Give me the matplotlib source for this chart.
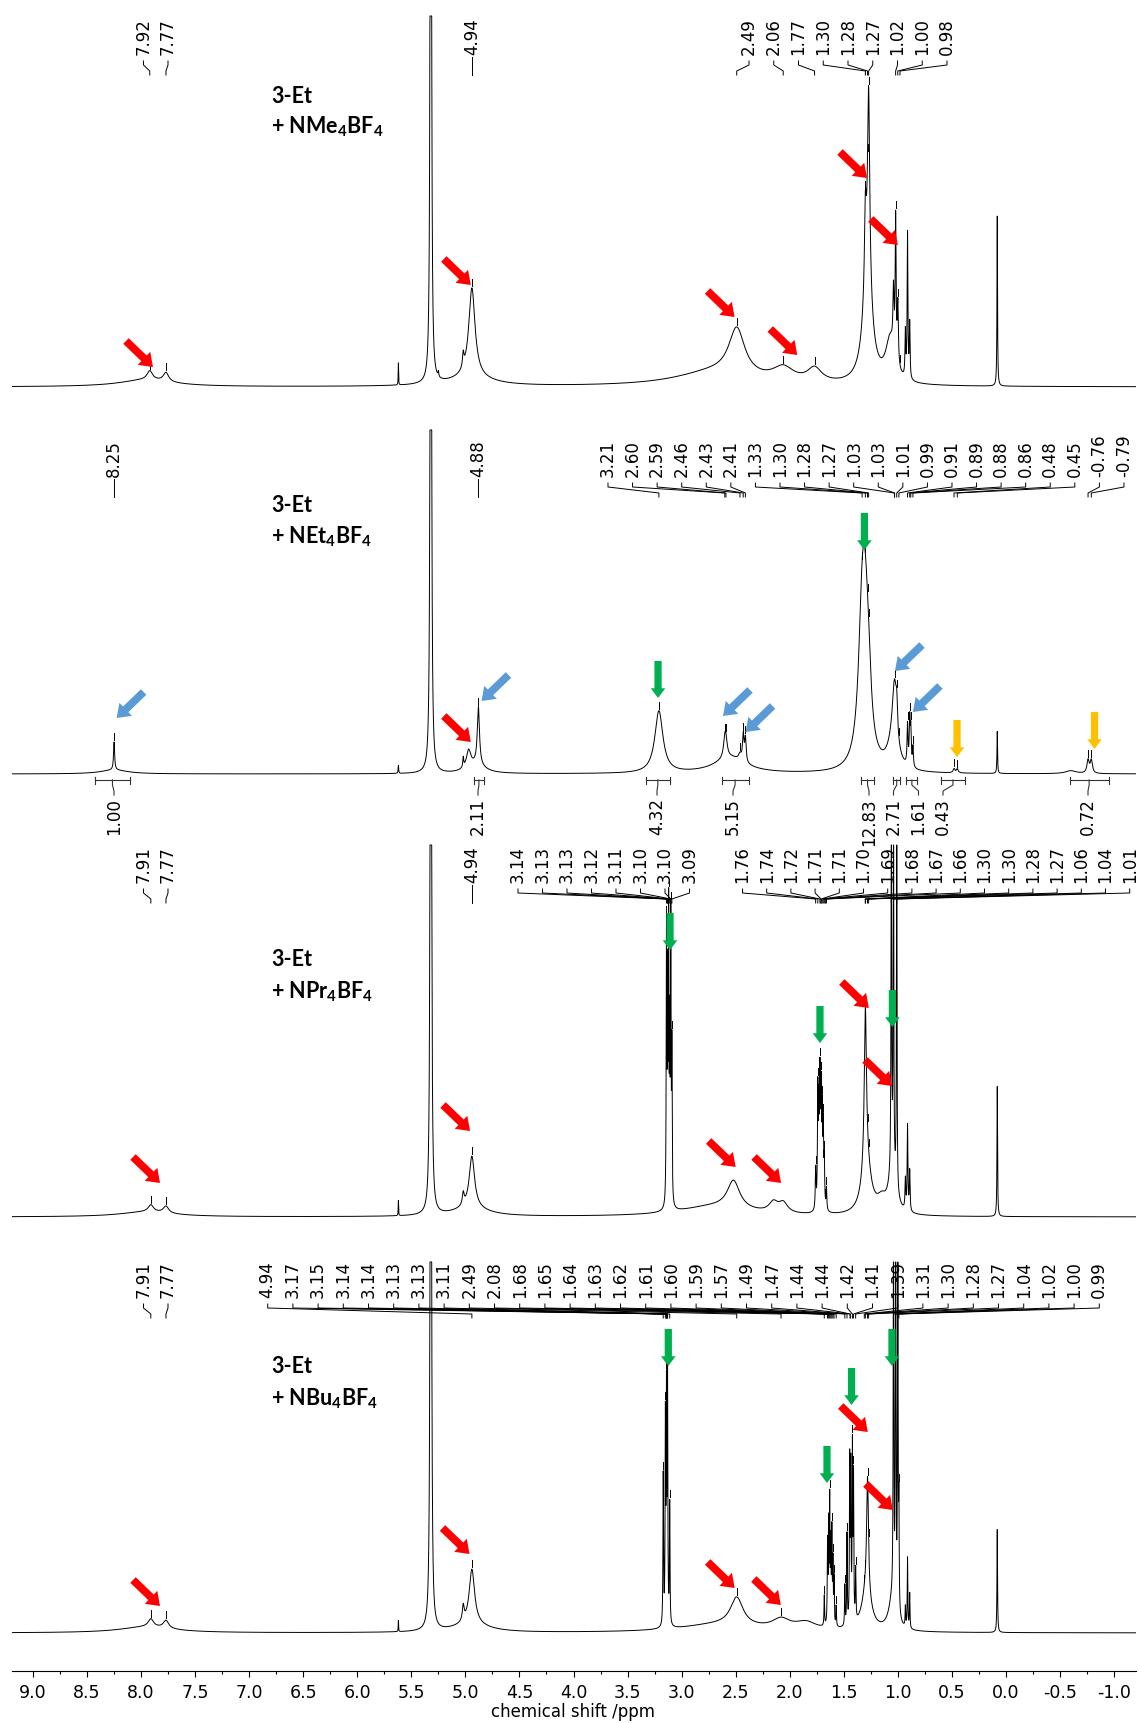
import numpy as np
import matplotlib
matplotlib.use("Agg")
import matplotlib.pyplot as plt

plt.rcParams["font.family"] = "DejaVu Sans"
plt.rcParams["axes.unicode_minus"] = False
plt.rcParams["mathtext.fontset"] = "custom"
plt.rcParams["mathtext.rm"] = "Lato:bold"
plt.rcParams["mathtext.it"] = "Lato:bold"
plt.rcParams["mathtext.bf"] = "Lato:bold"

# ---- peak tables (ppm, height in px above baseline, half-width in ppm)
p1_pos = [7.95, 7.92, 7.77, 5.62, 5.32, 5.25, 5.02, 4.94, 4.95, 2.70, 2.49, 2.06, 1.77,
          1.30, 1.28, 1.27, 1.07, 1.04, 1.02, 1.00, 0.93, 0.91, 0.89, 0.08]
p1_hgt = [7, 9, 9, 22, 2000, 5, 14, 90, 8, 14, 47, 14, 14,
          80, 100, 192, 42, 60, 140, 60, 45, 145, 55, 170]
p1_wid = [0.30, 0.03, 0.03, 0.002, 0.004, 0.004, 0.008, 0.035, 0.25, 0.45, 0.09, 0.12, 0.08,
          0.010, 0.05, 0.012, 0.05, 0.006, 0.005, 0.006, 0.004, 0.004, 0.004, 0.003]

p2_pos = [8.25, 8.25, 5.62, 5.32, 5.02, 4.97, 4.88, 4.90, 3.21, 2.60, 2.59, 2.46, 2.43, 2.41,
          2.55, 1.33, 1.30, 1.27, 1.03, 1.01, 1.05, 0.91, 0.89, 0.88, 0.86, 0.48, 0.45, 0.08,
          -0.60, -0.76, -0.79]
p2_hgt = [28, 4, 8, 2000, 10, 18, 58, 8, 62, 16, 14, 6, 26, 24,
          16, 130, 115, 40, 68, 25, 20, 40, 45, 35, 20, 4, 4, 42,
          3, 13, 13]
p2_wid = [0.006, 0.15, 0.003, 0.004, 0.005, 0.025, 0.012, 0.10, 0.045, 0.015, 0.015, 0.015, 0.008, 0.008,
          0.18, 0.04, 0.04, 0.03, 0.025, 0.008, 0.06, 0.005, 0.005, 0.005, 0.005, 0.01, 0.01, 0.003,
          0.06, 0.012, 0.012]

p3_pos = [7.95, 7.91, 7.77, 5.62, 5.32, 5.02, 4.94, 4.95, 3.14, 3.13, 3.12, 3.11, 3.10, 3.09,
          2.70, 2.52, 2.15, 2.06, 1.76, 1.74, 1.73, 1.72, 1.71, 1.70, 1.69, 1.68, 1.66,
          1.30, 1.29, 1.15, 1.06, 1.04, 1.01, 1.05, 0.93, 0.91, 0.89, 0.08]
p3_hgt = [5, 7, 7, 15, 2000, 12, 52, 8, 270, 210, 280, 160, 275, 150,
          10, 28, 10, 10, 40, 115, 90, 120, 105, 85, 75, 45, 22,
          158, 50, 12, 420, 420, 380, 40, 30, 85, 40, 130]
p3_wid = [0.30, 0.03, 0.03, 0.002, 0.004, 0.01, 0.03, 0.2, 0.003, 0.003, 0.003, 0.003, 0.003, 0.003,
          0.40, 0.07, 0.05, 0.05, 0.004, 0.004, 0.004, 0.004, 0.004, 0.004, 0.004, 0.004, 0.004,
          0.012, 0.05, 0.05, 0.003, 0.003, 0.003, 0.04, 0.004, 0.004, 0.004, 0.003]

p4_pos = [7.95, 7.91, 7.77, 5.62, 5.32, 5.02, 4.94, 4.95, 3.17, 3.15, 3.14, 3.13, 3.11,
          2.65, 2.49, 2.08, 1.85, 1.68, 1.65, 1.64, 1.63, 1.62, 1.61, 1.60, 1.59, 1.57,
          1.49, 1.47, 1.445, 1.435, 1.42, 1.41, 1.39, 1.28, 1.29,
          1.04, 1.02, 1.00, 0.99, 1.05, 0.93, 0.91, 0.89, 0.08]
p4_hgt = [6, 8, 8, 11, 2000, 15, 55, 8, 150, 200, 220, 240, 120,
          8, 28, 10, 8, 30, 80, 95, 120, 75, 90, 60, 45, 20,
          40, 90, 160, 150, 170, 140, 50, 115, 40,
          420, 440, 400, 100, 30, 20, 70, 35, 103]
p4_wid = [0.30, 0.03, 0.03, 0.002, 0.004, 0.01, 0.03, 0.2, 0.003, 0.003, 0.003, 0.003, 0.003,
          0.45, 0.07, 0.10, 0.12, 0.003, 0.003, 0.003, 0.003, 0.003, 0.003, 0.003, 0.003, 0.003,
          0.003, 0.003, 0.003, 0.003, 0.003, 0.003, 0.003, 0.01, 0.05,
          0.003, 0.003, 0.003, 0.003, 0.04, 0.003, 0.003, 0.003, 0.003]

# ---- peak labels (ppm) per panel, in groups
p1_labels = [[7.92, 7.77], [4.94], [2.49, 2.06, 1.77, 1.30, 1.28, 1.27, 1.02, 1.00, 0.98]]
p2_labels = [[8.25], [4.88],
             [3.21, 2.60, 2.59, 2.46, 2.43, 2.41, 1.33, 1.30, 1.28, 1.27, 1.03, 1.03, 1.01,
              0.99, 0.91, 0.89, 0.88, 0.86, 0.48, 0.45, -0.76, -0.79]]
p3_labels = [[7.91, 7.77], [4.94], [3.14, 3.13, 3.13, 3.12, 3.11, 3.10, 3.10, 3.09],
             [1.76, 1.74, 1.72, 1.71, 1.71, 1.70, 1.69, 1.68, 1.67, 1.66, 1.30, 1.30, 1.28,
              1.27, 1.06, 1.04, 1.01]]
p4_labels = [[7.91, 7.77],
             [4.94, 3.17, 3.15, 3.14, 3.14, 3.13, 3.13, 3.11, 2.49, 2.08, 1.68, 1.65, 1.64,
              1.63, 1.62, 1.61, 1.60, 1.59, 1.57, 1.49, 1.47, 1.44, 1.44, 1.42, 1.41, 1.39,
              1.31, 1.30, 1.28, 1.27, 1.04, 1.02, 1.00, 0.99]]

# ---- integrals of panel 2
int_from = [8.43, 4.92, 3.33, 2.63, 1.34, 1.04, 0.92, 0.60, -0.59]
int_to = [8.10, 4.83, 3.11, 2.38, 1.22, 0.98, 0.82, 0.38, -0.95]
int_value = [1.00, 2.11, 4.32, 5.15, 12.83, 2.71, 1.61, 0.43, 0.72]

salts = ["NMe", "NEt", "NPr", "NBu"]

# ---- layout (pixels from the top of the image)
W, H = 1139, 1723
AX_Y = 1671
base_y = [387, 774, 1217, 1633]
cap_h = [371, 344, 372, 371]
text_bottom = [55, 477, 883, 1298]
name_y = [(103, 133), (512, 543), (966, 998), (1373, 1405)]
label_start = [[143.5, None, 749], [None, None, 608], [143.5, None, 518, 742.5], [143.5, 267.7]]
label_step = [[24.5, 0, 24.75], [0, 0, 24.57], [24.5, 0, 24.5, 24.2], [24.5, 25.2]]
int_label_px = [114, 478, 657, 733, 869, 893.5, 918.5, 943, 1088]
INT_Y = 780

# arrows: (ppm of tip, y of tip in px)
red_arrows = [[(7.89, 367), (4.95, 285), (2.51, 317), (1.93, 355), (1.285, 178), (1.00, 245)],
              [(4.95, 742)],
              [(7.825, 1183), (4.957, 1131), (2.50, 1167), (2.08, 1183), (1.268, 1008), (1.054, 1086)],
              [(7.825, 1606), (4.962, 1554), (2.509, 1588), (2.082, 1605), (1.278, 1432), (1.046, 1510)]]
blue_arrows = [(8.226, 718), (4.851, 701), (2.617, 716), (2.408, 732), (1.026, 671), (0.86, 712)]
green_arrows = [(3.218, 698), (1.309, 550), (3.107, 950), (1.72, 1043), (1.05, 1027),
                (3.123, 1366), (1.655, 1483), (1.428, 1405), (1.054, 1366)]
orange_arrows = [(0.452, 757), (-0.82, 749)]


def px2ppm(px):
    return 9.0 - (px - 33.0) / 108.1


def ppm2px(ppm):
    return 33.0 + (9.0 - ppm) * 108.1


def lorentz(x, pos, hgt, wid):
    x = np.asarray(x, dtype=float)[:, None]
    pos, hgt, wid = np.asarray(pos), np.asarray(hgt), np.asarray(wid)
    return np.sum(hgt * wid ** 2 / ((x - pos) ** 2 + wid ** 2), axis=1)


fig = plt.figure(figsize=(W / 100, H / 100), dpi=100)
ax = fig.add_axes([12 / W, (H - AX_Y) / H, 1124 / W, AX_Y / H])
x_left, x_right = px2ppm(12), px2ppm(1136)
ax.set_xlim(x_left, x_right)
ax.set_ylim(AX_Y, 0)

xs = np.linspace(x_left, x_right, 60000)
peaks = [(p1_pos, p1_hgt, p1_wid), (p2_pos, p2_hgt, p2_wid),
         (p3_pos, p3_hgt, p3_wid), (p4_pos, p4_hgt, p4_wid)]
all_labels = [p1_labels, p2_labels, p3_labels, p4_labels]

for i, pk in enumerate(peaks):
    spec = np.minimum(lorentz(xs, *pk), cap_h[i])
    ax.plot(xs, base_y[i] - spec, color="black", lw=0.7, zorder=3)

    tb = text_bottom[i]
    for g, vals in enumerate(all_labels[i]):
        st, sp = label_start[i][g], label_step[i][g]
        for k, v in enumerate(vals):
            lab_px = ppm2px(v) if st is None else st + sp * k
            lx = px2ppm(lab_px)
            ax.text(lx, tb, f"{v:.2f}", rotation=90, ha="center", va="bottom",
                    fontsize=12, clip_on=True, zorder=2)
            top = tb + 2 if st is None else tb + 6
            ax.plot([lx, lx, v, v], [top, tb + 10, tb + 16, tb + 20],
                    color="black", lw=0.7, zorder=2)
            apex = lorentz([v], *pk)[0]
            if apex < cap_h[i] - 15:
                ax.plot([v, v], [base_y[i] - apex - 2, base_y[i] - apex - 9],
                        color="black", lw=0.7, zorder=3)

    y1, y2 = name_y[i]
    ax.text(px2ppm(271), y1, "3-Et", fontsize=15.5, fontweight="bold", family="Lato",
            va="baseline", ha="left")
    ax.text(px2ppm(271), y2, "+ " + salts[i] + "$_4$BF$_4$", fontsize=15.5,
            fontweight="bold", family="Lato", va="baseline", ha="left")

# integrals (panel 2)
for a, b, val, lp in zip(int_from, int_to, int_value, int_label_px):
    c = (a + b) / 2
    lx = px2ppm(lp)
    ax.plot([a, b], [INT_Y, INT_Y], color="#333333", lw=0.8)
    ax.plot([a, a], [INT_Y - 3.5, INT_Y + 3.5], color="#333333", lw=0.8)
    ax.plot([b, b], [INT_Y - 3.5, INT_Y + 3.5], color="#333333", lw=0.8)
    ax.plot([c, c, lx, lx], [INT_Y, INT_Y + 5, INT_Y + 11, INT_Y + 15], color="#333333", lw=0.8)
    ax.text(lx, INT_Y + 18, f"{val:.2f}", rotation=90, ha="center", va="top", fontsize=12)


def arrow(ppm, y, dx, dy, color, style):
    tail = (px2ppm(ppm2px(ppm) + dx), y + dy)
    ax.annotate("", xy=(ppm, y), xytext=tail, zorder=5,
                arrowprops=dict(arrowstyle=style, color=color, lw=0,
                                shrinkA=0, shrinkB=0, mutation_scale=1))


diag = "simple,head_length=9,head_width=13,tail_width=5.6"
down = "simple,head_length=7,head_width=10.5,tail_width=5.2"
for panel in red_arrows:
    for p, y in panel:
        arrow(p, y, -27, -26, "#FF0000", diag)
for p, y in blue_arrows:
    arrow(p, y, 27, -26, "#5B9BD5", diag)
for p, y in green_arrows:
    arrow(p, y, 0, -37, "#00B050", down)
for p, y in orange_arrows:
    arrow(p, y, 0, -37, "#FFC000", down)

# axis
for s in ["top", "left", "right"]:
    ax.spines[s].set_visible(False)
ax.spines["bottom"].set_linewidth(0.8)
ax.set_yticks([])
ticks = np.arange(-1.0, 9.01, 0.5)
ax.set_xticks(ticks)
ax.set_xticklabels([f"{t:.1f}" for t in ticks])
ax.set_xticks(np.arange(-0.75, 9.1, 0.5), minor=True)
ax.tick_params(axis="x", which="major", length=4.5, width=0.8, labelsize=12.5, pad=4.5)
ax.tick_params(axis="x", which="minor", length=2.5, width=0.8)
ax.set_xlabel("chemical shift /ppm", fontsize=12, va="center")
ax.xaxis.set_label_coords((573 - 12) / 1124, -41 / AX_Y)

fig.savefig("out.png", dpi=100)
